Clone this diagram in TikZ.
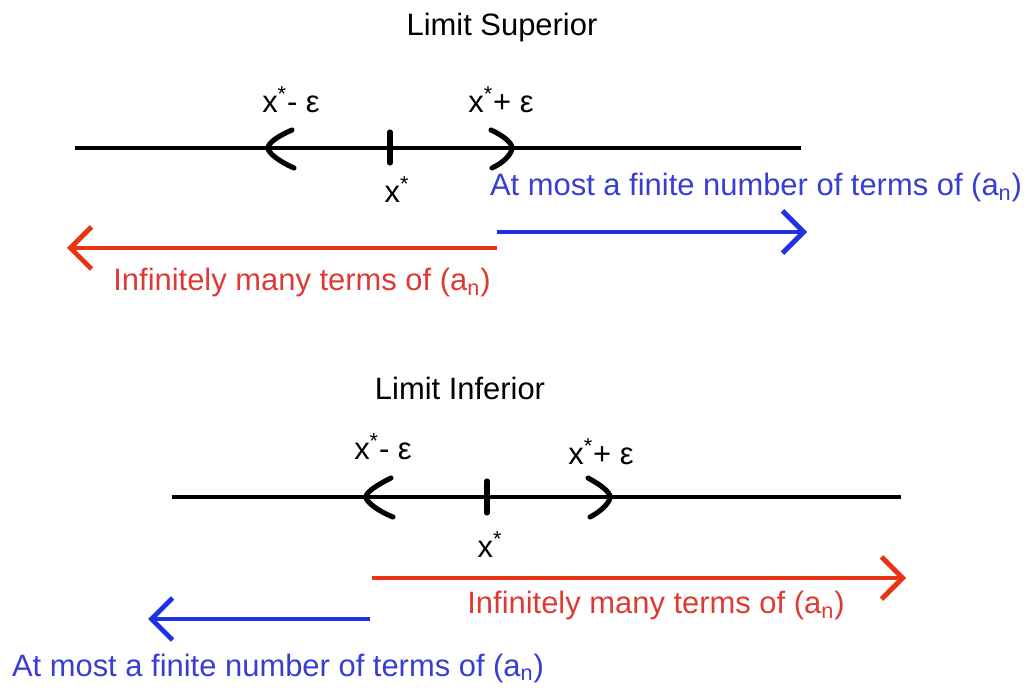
\documentclass[tikz,border=0pt]{standalone}
\usepackage{fontspec}
\setmainfont{Liberation Sans}
\usepackage{xcolor}
\usetikzlibrary{arrows.meta,positioning,calc}
\definecolor{redarrow}{RGB}{232,52,20}
\definecolor{bluearrow}{RGB}{30,50,228}
\definecolor{redtext}{RGB}{222,58,52}
\definecolor{bluetext}{RGB}{55,62,210}
\newcommand{\xs}{x\textsuperscript{*}}
\newcommand{\an}{(a\textsubscript{n})}
\tikzset{
  numline/.style={line width=2.5pt, black},
  brack/.style={line width=2.9pt, black, line cap=round},
  termarrow/.style={line width=2.4pt, -{Straight Barb[length=12pt,width=24pt,line width=2.8pt]}},
  lbl/.style={inner sep=0pt, font=\fontsize{17.6}{21}\selectfont}
}

\begin{document}
\begin{tikzpicture}[x=0.02cm, y=-0.02cm]
  \useasboundingbox (0,0) rectangle (1027,688);
  % upper picture: limit superior
  \node[lbl] (supTitle) at (502,28) {Limit Superior};
  \coordinate (supL) at (75,148);
  \coordinate (supR) at (801,148);
  \draw[numline] (supL) -- (supR);
  \draw[brack] (390,132) -- (390,163);
  \draw[brack] (292,130) .. controls (278,136) and (268,143) .. (268,148) .. controls (268,153) and (280,162) .. (294,168);
  \draw[brack] (491,130) .. controls (504,136) and (512,143) .. (512,148) .. controls (512,153) and (505,162) .. (492,168);
  \node[lbl] (supMinus) at (291,100) {\xs- ε};
  \node[lbl] (supPlus) at (501,100) {\xs+ ε};
  \node[lbl] (supStar) at (397,190) {\xs};
  \coordinate (supBlueA) at (497,232);
  \coordinate (supBlueB) at (807,232);
  \draw[termarrow, bluearrow] (supBlueA) -- (supBlueB);
  \node[lbl, text=bluetext] (supFinite) at (756,188) {At most a finite number of terms of \an};
  \coordinate (supRedA) at (497,248);
  \coordinate (supRedB) at (67,248);
  \draw[termarrow, redarrow] (supRedA) -- (supRedB);
  \node[lbl, text=redtext] (supInfinite) at (302,283) {Infinitely many terms of \an};

  % lower picture: limit inferior
  \node[lbl] (infTitle) at (460,388) {Limit Inferior};
  \coordinate (infL) at (172,497);
  \coordinate (infR) at (901,497);
  \draw[numline] (infL) -- (infR);
  \draw[brack] (487,481) -- (487,513);
  \draw[brack] (391,478) .. controls (377,485) and (366,492) .. (366,497) .. controls (366,502) and (378,511) .. (393,517);
  \draw[brack] (588,478) .. controls (601,485) and (610,492) .. (610,497) .. controls (610,502) and (602,511) .. (590,517);
  \node[lbl] (infMinus) at (383,447) {\xs- ε};
  \node[lbl] (infPlus) at (601,452) {\xs+ ε};
  \node[lbl] (infStar) at (490,545) {\xs};
  \coordinate (infRedA) at (372,578);
  \coordinate (infRedB) at (906,578);
  \draw[termarrow, redarrow] (infRedA) -- (infRedB);
  \node[lbl, text=redtext] (infInfinite) at (656,606) {Infinitely many terms of \an};
  \coordinate (infBlueA) at (370,619);
  \coordinate (infBlueB) at (148,619);
  \draw[termarrow, bluearrow] (infBlueA) -- (infBlueB);
  \node[lbl, text=bluetext] (infFinite) at (278,668) {At most a finite number of terms of \an};
\end{tikzpicture}
\end{document}
